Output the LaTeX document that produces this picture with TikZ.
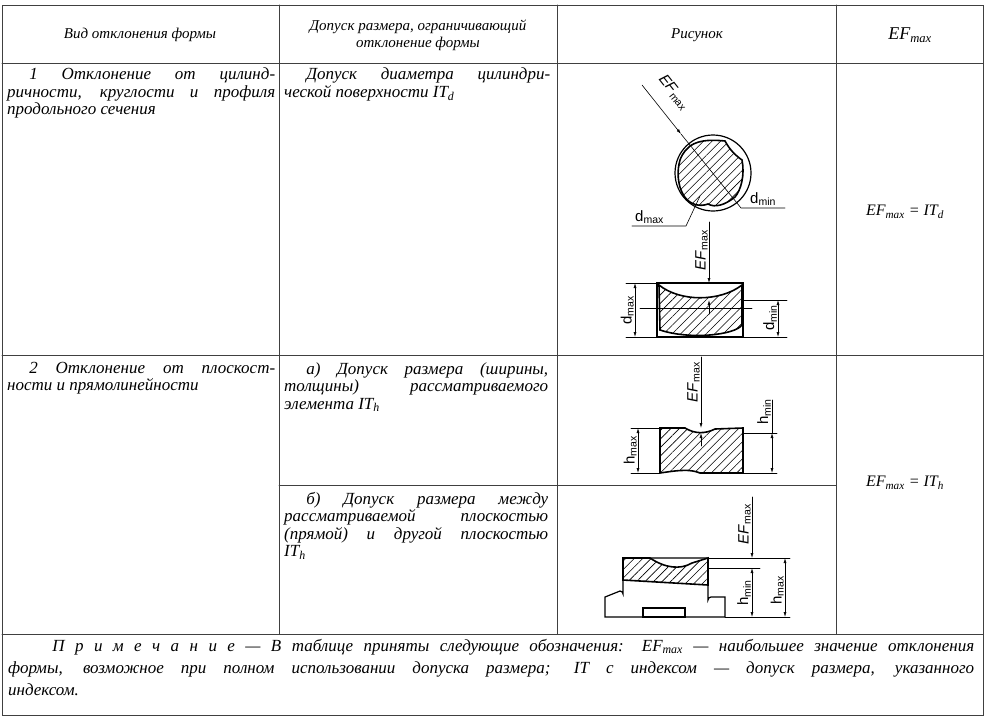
\documentclass[tikz,border=0pt]{standalone}
\usepackage{fontspec}
\setmainfont{Liberation Serif}
\setsansfont{Liberation Sans}
\usetikzlibrary{positioning,arrows.meta,patterns.meta}
\newcommand{\efm}{\textit{EF}\textsubscript{\textit{max}}}

\begin{document}
\begin{tikzpicture}[x=1pt,y=-1pt, line cap=round,
  grid/.style = {line width=1pt, black!75},
  txt/.style = {anchor=north west, inner sep=0pt, align=justify, font=\fontsize{17}{17.5}\selectfont\itshape},
  head/.style = {align=center, inner sep=0pt, font=\fontsize{15}{17}\selectfont\itshape},
  part/.style = {line width=1.6pt, pattern={Lines[angle=45,distance=6pt,line width=0.6pt]}},
  thin/.style = {line width=0.6pt},
  dim/.style = {line width=0.6pt, {Latex[length=5pt,width=3pt]}-{Latex[length=5pt,width=3pt]}},
  pt/.style = {line width=0.6pt, -{Latex[length=5pt,width=3pt]}},
  lab/.style = {inner sep=1pt, font=\sffamily\fontsize{15}{15}\selectfont}]
\useasboundingbox (0,0) rectangle (1000,726);

% table frame
\draw[grid] (2,5) rectangle (983,715);
\draw[grid] (2,63) -- (983,63);
\draw[grid] (2,355) -- (983,355);
\draw[grid] (2,634) -- (983,634);
\draw[grid] (279,485) -- (836,485);
\draw[grid] (279,5) -- (279,634);
\draw[grid] (557,5) -- (557,634);
\draw[grid] (836,5) -- (836,634);

% header
\node[head] (h1) at (140,35) {Вид отклонения формы};
\node[head] (h2) at (418,35) {Допуск размера, ограничивающий\\отклонение формы};
\node[head] (h3) at (697,35) {Рисунок};
\node[head] (h4) at (910,35) {\fontsize{18}{18}\selectfont\efm};

% texts
\node[txt, text width=268pt] (r1a) at (7,68) {\hspace*{1.3em}1 Отклонение от цилинд-\linebreak ричности, круглости и профиля\linebreak продольного сечения};
\node[txt, text width=266pt] (r1b) at (284,68) {\hspace*{1.3em}Допуск диаметра цилиндри-\linebreak ческой поверхности \textit{IT}\textsubscript{\textit{d}}};
\node[head] (r1c) at (905,212) {\fontsize{16}{16}\selectfont\efm\ = \textit{IT}\textsubscript{\textit{d}}};
\node[txt, text width=268pt] (r2a) at (7,362) {\hspace*{1.3em}2 Отклонение от плоскост-\linebreak ности и прямолинейности};
\node[txt, text width=264pt] (r2b) at (284,362) {\hspace*{1.3em}а) Допуск размера (ширины,\linebreak толщины) рассматриваемого\linebreak элемента \textit{IT}\textsubscript{\textit{h}}};
\node[txt, text width=264pt] (r2c) at (284,492) {\hspace*{1.3em}б) Допуск размера между\linebreak рассматриваемой плоскостью\linebreak (прямой) и другой плоскостью\linebreak \textit{IT}\textsubscript{\textit{h}}};
\node[head] (r2d) at (905,483) {\fontsize{16}{16}\selectfont\efm\ = \textit{IT}\textsubscript{\textit{h}}};
\node[txt, text width=966pt, font=\fontsize{17}{22}\selectfont\itshape] (note) at (8,639) {\hspace*{2.6em}П р и м е ч а н и е --- В таблице приняты следующие обозначения: \efm\ --- наибольшее значение отклонения\linebreak формы, возможное при полном использовании допуска размера; \textit{IT} с индексом --- допуск размера, указанного\linebreak индексом.};

% figure 1: cross-section
\draw[line width=1.2pt] (713,173) circle (38);
\draw[part] (690,146) .. controls (700,139) and (715,140) .. (725,141)
  .. controls (730,150) and (735,155) .. (742,160) .. controls (745,175) and (741,190) .. (735,197)
  .. controls (725,205) and (715,208) .. (708,204) .. controls (700,207) and (690,205) .. (684,196)
  .. controls (677,185) and (677,170) .. (680,160) .. controls (683,152) and (686,150) .. (690,146) -- cycle;
\coordinate (ef1) at (642,85);
\coordinate (ef2) at (681,134);
\coordinate (dn1) at (741,208);
\coordinate (dn2) at (785,208);
\draw[pt] (ef1) -- (ef2);
\draw[thin] (ef2) -- (dn1) -- (dn2);
\node[lab, rotate=-52, anchor=south] (lef1) at (668,97) {\textit{EF}\textsubscript{max}};
\node[lab, anchor=south west] (ldn) at (749,207) {d\textsubscript{min}};
\coordinate (dx1) at (632,226);
\coordinate (dx2) at (686,226);
\coordinate (dx3) at (700,196);
\draw[thin] (dx1) -- (dx2) -- (dx3);
\node[lab, anchor=south west] (ldx) at (634,225) {d\textsubscript{max}};

% figure 1: longitudinal section
\draw[line width=1.2pt] (657,283) rectangle (743,337);
\draw[part] (659,285) .. controls (680,302) and (720,302) .. (742,285)
  -- (742,325) .. controls (735,335) and (690,340) .. (660,330) -- cycle;
\draw[thin] (640,308) -- (752,308);
\draw[thin] (626,283) -- (657,283);
\draw[thin] (626,337) -- (657,337);
\draw[thin] (743,300) -- (787,300);
\draw[thin] (743,337) -- (787,337);
\coordinate (a1) at (635,283);
\coordinate (a2) at (635,337);
\draw[dim] (a1) -- (a2);
\node[lab, rotate=90, anchor=south] (ldmax) at (635,310) {d\textsubscript{max}};
\coordinate (b1) at (778,300);
\coordinate (b2) at (778,337);
\draw[dim] (b1) -- (b2);
\node[lab, rotate=90, anchor=south] (ldmin) at (778,318) {d\textsubscript{min}};
\coordinate (c0) at (709,222);
\coordinate (c1) at (709,283);
\coordinate (c2) at (709,300);
\coordinate (c3) at (709,314);
\draw[pt] (c0) -- (c1);
\draw[pt] (c3) -- (c2);
\node[lab, rotate=90, anchor=south] (lefb) at (709,250) {\textit{EF}\textsubscript{max}};

% figure 2a
\draw[part] (660,428) -- (685,428) .. controls (695,434) and (705,434) .. (715,429) -- (743,428)
  -- (743,473) -- (700,473) .. controls (690,469) and (680,470) .. (660,473) -- cycle;
\draw[thin] (631,428) -- (660,428);
\draw[thin] (631,473) -- (660,473);
\draw[thin] (743,433) -- (777,433);
\draw[thin] (743,473) -- (777,473);
\coordinate (e1) at (638,428);
\coordinate (e2) at (638,473);
\draw[dim] (e1) -- (e2);
\node[lab, rotate=90, anchor=south] (lhmax) at (638,450) {h\textsubscript{max}};
\coordinate (f1) at (772,433);
\coordinate (f2) at (772,473);
\draw[dim] (f1) -- (f2);
\coordinate (f0) at (772,400);
\draw[thin] (f0) -- (f1);
\node[lab, rotate=90, anchor=south] (lhmin) at (772,412) {h\textsubscript{min}};
\coordinate (g0) at (701,357);
\coordinate (g1) at (701,428);
\coordinate (g2) at (701,433);
\coordinate (g3) at (701,446);
\draw[pt] (g0) -- (g1);
\draw[pt] (g3) -- (g2);
\node[lab, rotate=90, anchor=south] (lefc) at (701,382) {\textit{EF}\textsubscript{max}};

% figure 2b
\draw[line width=1.2pt] (623,558) -- (623,594) arc[start angle=0,end angle=-90,radius=3] -- (605,597)
  -- (605,617) -- (725,617) -- (725,597) -- (711,597) arc[start angle=270,end angle=180,radius=3] -- (708,558) -- cycle;
\draw[line width=1.2pt] (643,617) rectangle (685,608);
\draw[part] (623,558) -- (650,558) .. controls (665,568) and (680,570) .. (692,563) -- (708,558)
  -- (708,585) -- (623,580) -- cycle;
\draw[thin] (708,558) -- (790,558);
\draw[thin] (708,568) -- (760,568);
\draw[thin] (725,617) -- (790,617);
\coordinate (k1) at (752,568);
\coordinate (k2) at (752,617);
\draw[dim] (k1) -- (k2);
\node[lab, rotate=90, anchor=south] (lhmin2) at (752,593) {h\textsubscript{min}};
\coordinate (m1) at (785,558);
\coordinate (m2) at (785,617);
\draw[dim] (m1) -- (m2);
\node[lab, rotate=90, anchor=south] (lhmax2) at (785,590) {h\textsubscript{max}};
\coordinate (n0) at (752,497);
\coordinate (n1) at (752,558);
\draw[pt] (n0) -- (n1);
\node[lab, rotate=90, anchor=south] (lefd) at (752,524) {\textit{EF}\textsubscript{max}};
\end{tikzpicture}
\end{document}
